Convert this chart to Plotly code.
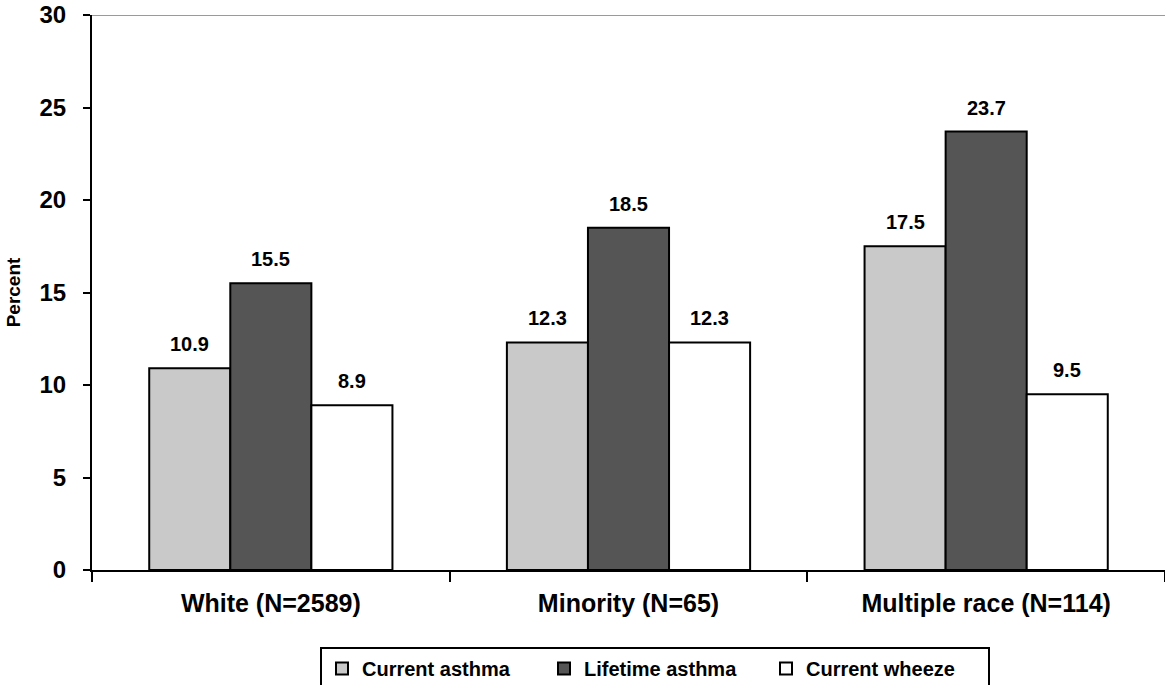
import plotly.graph_objects as go

# Asthma prevalence by race group
groups = ["White (N=2589)", "Minority (N=65)", "Multiple race (N=114)"]
current_asthma = [10.9, 12.3, 17.5]
lifetime_asthma = [15.5, 18.5, 23.7]
current_wheeze = [8.9, 12.3, 9.5]

series = [
    ("Current asthma", current_asthma, "#c9c9c9"),
    ("Lifetime asthma", lifetime_asthma, "#555555"),
    ("Current wheeze", current_wheeze, "#ffffff"),
]

FONT = "Liberation Sans, Arial, sans-serif"
BARGAP = 0.32

fig = go.Figure()
for name, vals, color in series:
    fig.add_trace(go.Bar(
        name=name,
        x=groups,
        y=vals,
        marker=dict(color=color, line=dict(color="#000000", width=2)),
        textposition="none",
    ))

# value labels floating above each bar
offsets = [-1, 0, 1]
annotations = []
bar_w = (1 - BARGAP) / 3
for (name, vals, color), off in zip(series, offsets):
    for i, v in enumerate(vals):
        annotations.append(dict(
            x=i + off * bar_w, y=v, xref="x", yref="y",
            text=f"<b>{v:.1f}</b>", showarrow=False,
            yanchor="bottom", yshift=11,
            font=dict(family=FONT, size=20, color="#000000"),
        ))

fig.update_layout(
    width=1165, height=685,
    margin=dict(l=92, r=0, t=15, b=115),
    paper_bgcolor="#ffffff",
    plot_bgcolor="#ffffff",
    barmode="group",
    bargap=BARGAP,
    bargroupgap=0,
    font=dict(family=FONT, color="#000000"),
    annotations=annotations,
    showlegend=True,
    legend=dict(
        orientation="h",
        xref="container", yref="container",
        x=320 / 1165, xanchor="left",
        y=1 - 647 / 685, yanchor="top",
        bordercolor="#000000", borderwidth=2,
        bgcolor="#ffffff",
        font=dict(family=FONT, size=20, color="#000000", weight="bold"),
        entrywidth=177,
        itemwidth=30,
        traceorder="normal",
    ),
    shapes=[dict(
        type="line", xref="paper", yref="y",
        x0=0, x1=1, y0=30, y1=30,
        line=dict(color="#9a9a9a", width=2),
    )],
    xaxis=dict(
        showline=True, linecolor="#000000", linewidth=2,
        ticks="outside", ticklen=10, tickwidth=2, tickcolor="#000000",
        tickson="boundaries",
        tickfont=dict(family=FONT, size=25, color="#000000", weight="bold"),
        ticklabelstandoff=10,
        showgrid=False,
    ),
    yaxis=dict(
        range=[0, 30],
        tickvals=[0, 5, 10, 15, 20, 25, 30],
        showline=True, linecolor="#000000", linewidth=2,
        ticks="outside", ticklen=7, tickwidth=2, tickcolor="#000000",
        tickfont=dict(family=FONT, size=24, color="#000000", weight="bold"),
        ticklabelstandoff=12,
        showgrid=False, zeroline=False,
        title=dict(text="Percent", standoff=14,
                   font=dict(family=FONT, size=19, color="#000000", weight="bold")),
    ),
)

fig.write_html("out.html")
